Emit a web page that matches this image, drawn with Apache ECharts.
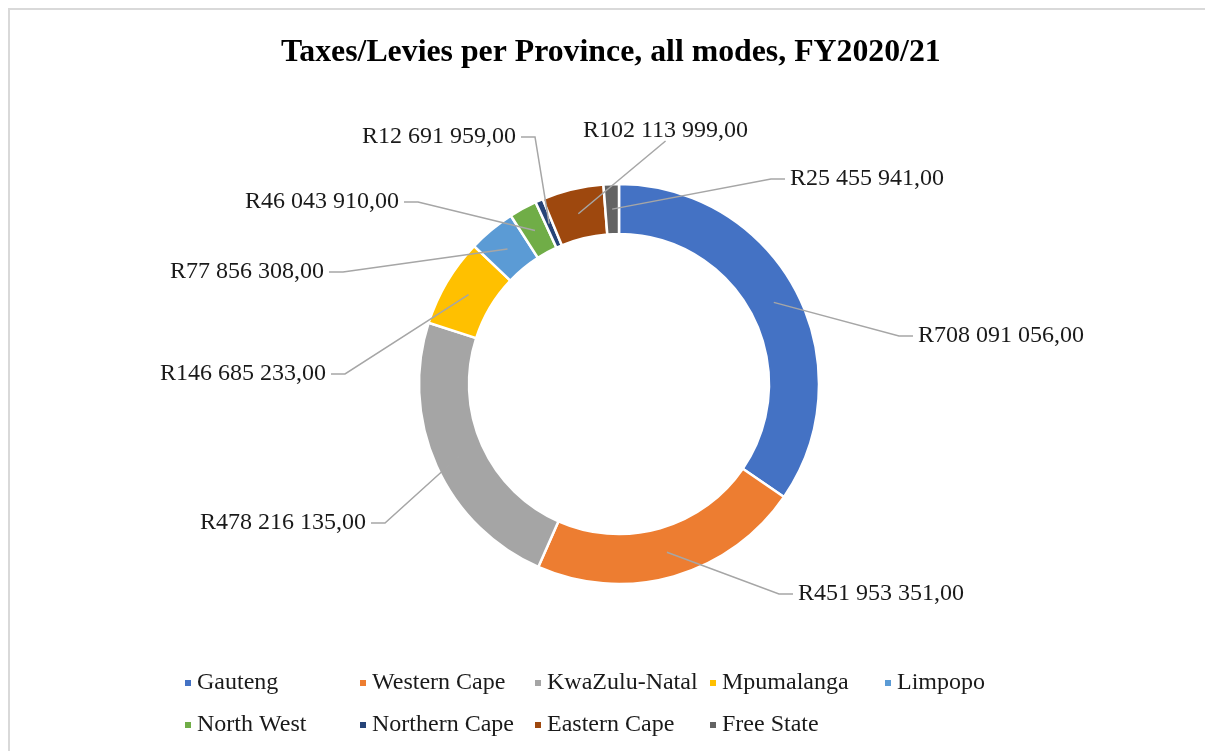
<!DOCTYPE html>
<html>
<head>
<meta charset="utf-8">
<script src="https://cdn.jsdelivr.net/npm/echarts@6/dist/echarts.min.js"></script>
<style>
  html, body { margin: 0; padding: 0; background: #fff; overflow: hidden; }
  #wrap { position: relative; width: 1205px; height: 751px; overflow: hidden; }
  #frame { position: absolute; left: 8px; top: 8px; width: 1400px; height: 1000px;
           border-top: 2px solid #d9d9d9; border-left: 2px solid #d9d9d9; }
  #chart { position: absolute; left: 0; top: 0; width: 1205px; height: 751px; }
</style>
</head>
<body>
<div id="wrap">
  <div id="frame"></div>
  <div id="chart"></div>
</div>
<script>
// provinces, clockwise from 12 o'clock
var provinces = ['Gauteng', 'Western Cape', 'KwaZulu-Natal', 'Mpumalanga', 'Limpopo',
                 'North West', 'Northern Cape', 'Eastern Cape', 'Free State'];
var taxes = [708091056, 451953351, 478216135, 146685233, 77856308,
             46043910, 12691959, 102113999, 25455941];
var colors = ['#4472C4', '#ED7D31', '#A5A5A5', '#FFC000', '#5B9BD5',
              '#70AD47', '#264478', '#9E480E', '#636363'];

// where each data label sits (left edge, middle) and which side the leader line joins
var labelSpots = [[918, 336], [798, 594], [200, 523], [160, 374], [170, 272],
                  [245, 202], [362, 137], [583, 131], [790, 179]];
var labelSides = ['left', 'left', 'right', 'right', 'right', 'right', 'right', 'bottom', 'left'];

var pieCenter = [619, 384];
var pieRadius = [150, 200];

function fmtRand(v) {
    // R708 091 056,00
    var s = String(Math.round(v)).replace(/\B(?=(\d{3})+(?!\d))/g, ' ');
    return 'R' + s + ',00';
}

// middle of the ring at the middle angle of slice idx
function ringAnchor(idx) {
    var total = 0, before = 0;
    for (var k = 0; k < taxes.length; k++) {
        total += taxes[k];
        if (k < idx) before += taxes[k];
    }
    var mid = (before + taxes[idx] / 2) / total * Math.PI * 2 - Math.PI / 2;
    var rm = (pieRadius[0] + pieRadius[1]) / 2;
    return [pieCenter[0] + rm * Math.cos(mid), pieCenter[1] + rm * Math.sin(mid)];
}

var myChart = echarts.init(document.getElementById('chart'));

var pieData = [];
var labelData = [];
for (var i = 0; i < provinces.length; i++) {
    pieData.push({ name: provinces[i], value: taxes[i], itemStyle: { color: colors[i] } });
    labelData.push({ name: provinces[i], value: taxes[i] });
}

var option = {
    animation: false,
    title: {
        text: 'Taxes/Levies per Province, all modes, FY2020/21',
        left: 276,
        top: 32,
        textStyle: {
            fontFamily: 'Liberation Serif',
            fontSize: 31.8,
            fontWeight: 'bold',
            color: '#000'
        }
    },
    legend: {
        left: 178,
        top: 657,
        width: 900,
        orient: 'horizontal',
        icon: 'rect',
        itemWidth: 8,
        itemHeight: 8,
        itemGap: 0,
        data: provinces,
        textStyle: {
            fontFamily: 'Liberation Serif',
            fontSize: 24,
            color: '#1a1a1a',
            width: 161,
            lineHeight: 42
        }
    },
    series: [
        {
            // the ring
            type: 'pie',
            z: 2,
            center: pieCenter,
            radius: pieRadius,
            startAngle: 90,
            clockwise: true,
            emphasis: { disabled: true },
            itemStyle: { borderColor: '#fff', borderWidth: 2.5 },
            label: { show: false },
            labelLine: { show: false },
            data: pieData
        },
        {
            // same slices, invisible, only carrying labels + leader lines on top of the ring
            type: 'pie',
            z: 5,
            silent: true,
            center: pieCenter,
            radius: pieRadius,
            startAngle: 90,
            clockwise: true,
            avoidLabelOverlap: false,
            emphasis: { disabled: true },
            itemStyle: { color: 'rgba(0,0,0,0)', borderWidth: 0 },
            label: {
                show: true,
                position: 'outside',
                fontFamily: 'Liberation Serif',
                fontSize: 24,
                color: '#1a1a1a',
                formatter: function (p) { return fmtRand(p.value); }
            },
            labelLine: {
                show: true,
                smooth: false,
                lineStyle: { color: '#a6a6a6', width: 1.5 }
            },
            labelLayout: function (p) {
                var idx = p.dataIndex;
                var an = ringAnchor(idx);
                var sx = labelSpots[idx][0], sy = labelSpots[idx][1];
                var w = p.labelRect.width, h = p.labelRect.height;
                var pts;
                if (labelSides[idx] === 'bottom') {
                    pts = [an, [sx + w / 2, sy + h / 2 - 2]];
                } else if (labelSides[idx] === 'right') {
                    var ex = sx + w + 5;
                    pts = [an, [ex + 14, sy], [ex, sy]];
                } else {
                    var ex2 = sx - 5;
                    pts = [an, [ex2 - 14, sy], [ex2, sy]];
                }
                return {
                    x: sx,
                    y: sy,
                    align: 'left',
                    verticalAlign: 'middle',
                    labelLinePoints: pts
                };
            },
            data: labelData
        }
    ]
};

myChart.setOption(option);
</script>
</body>
</html>
